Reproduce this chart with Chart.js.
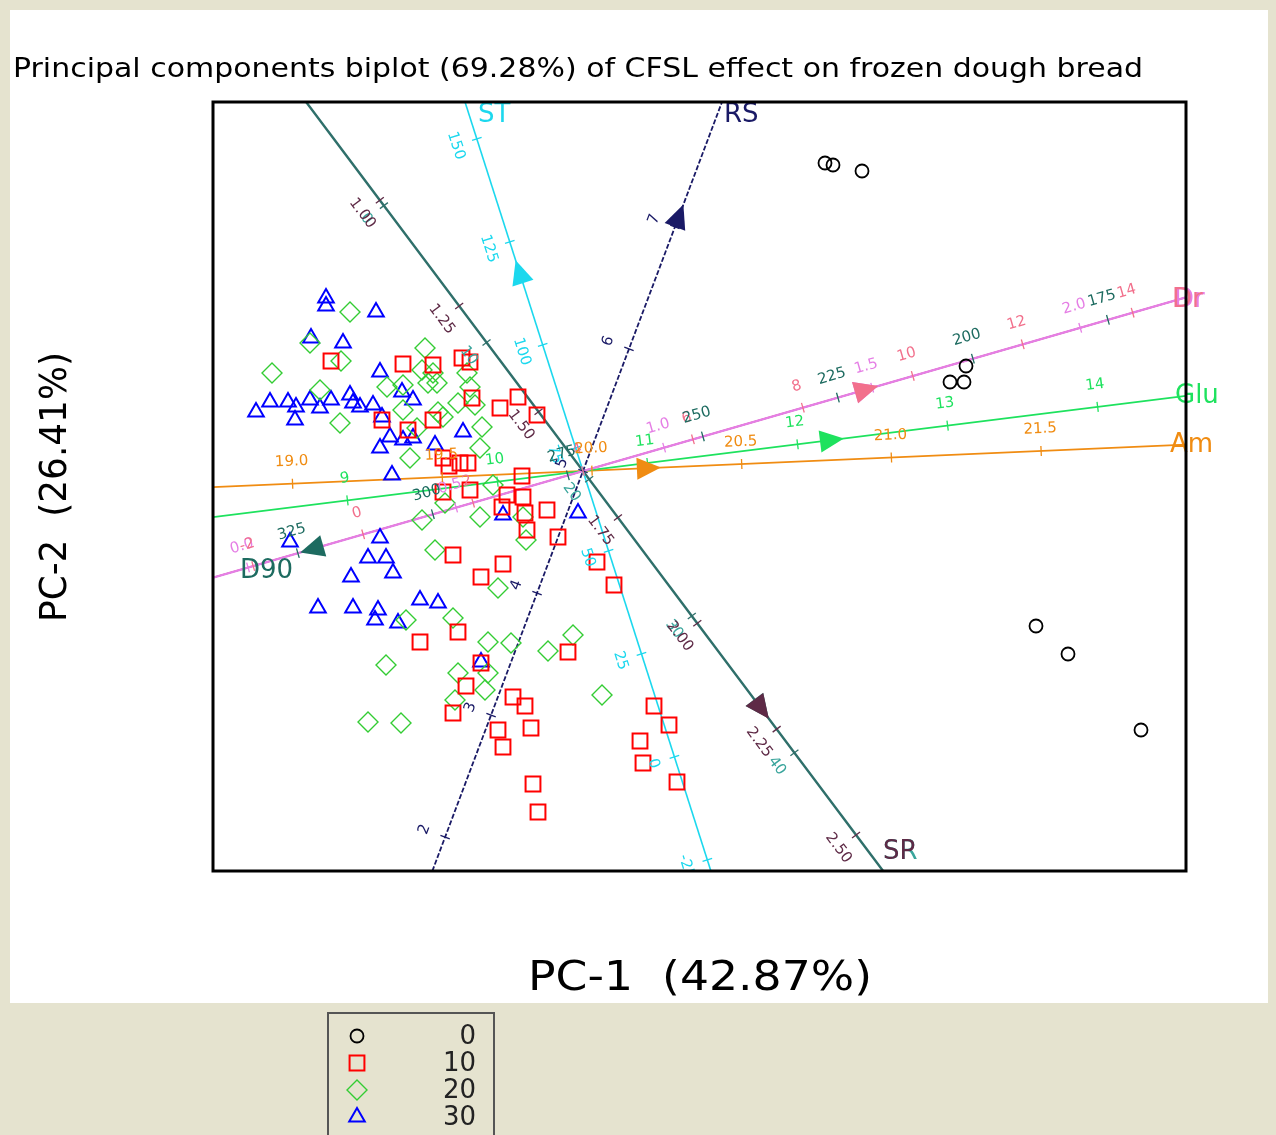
<!DOCTYPE html>
<html>
<head>
<meta charset="utf-8">
<script src="https://cdn.jsdelivr.net/npm/chart.js@4.4.0/dist/chart.umd.min.js"></script>
<style>
    html, body { margin: 0; padding: 0; background: #e5e3cf; }
    canvas { display: block; }
</style>
</head>
<body>
<canvas id="biplot" width="1276" height="1135"></canvas>
<script>
// groups (CFSL level) and their PC scores [PC-1, PC-2]
const groups = ['0', '10', '20', '30'];

const scores0 = [[2.42, 3.08], [2.50, 3.06], [2.79, 3.00], [3.67, 0.89], [3.81, 0.89], [3.83, 1.05],
    [4.53, -1.55], [4.85, -1.83], [5.58, -2.59]];

const scores10 = [[-2.52, 1.10], [-1.80, 1.07], [-1.50, 1.06], [-1.21, 1.13], [-1.13, 1.09], [-1.11, 0.73],
    [-0.65, 0.74], [-0.83, 0.63], [-0.46, 0.56], [-2.01, 0.51], [-1.75, 0.41], [-1.50, 0.51],
    [-1.40, 0.13], [-1.34, 0.05], [-1.23, 0.08], [-1.15, 0.08], [-1.40, -0.21], [-1.13, -0.19],
    [-0.61, -0.05], [-0.76, -0.24], [-0.60, -0.26], [-0.81, -0.36], [-0.58, -0.42], [-0.36, -0.39],
    [-0.56, -0.59], [-0.25, -0.66], [0.14, -0.91], [0.31, -1.14], [-1.30, -0.84], [-0.80, -0.93],
    [-1.02, -1.06], [-1.63, -1.71], [-1.25, -1.61], [-1.02, -1.92], [-1.17, -2.15], [-1.30, -2.42],
    [-0.70, -2.26], [-0.58, -2.35], [-0.85, -2.59], [-0.52, -2.57], [-0.80, -2.76], [-0.50, -3.13],
    [-0.45, -3.41], [-0.15, -1.81], [0.71, -2.35], [0.86, -2.54], [0.57, -2.70], [0.60, -2.92],
    [0.94, -3.11]];

const scores20 = [[-2.33, 1.59], [-2.73, 1.28], [-2.42, 1.10], [-3.11, 0.98], [-2.63, 0.81], [-2.43, 0.48],
    [-1.58, 1.23], [-1.61, 1.01], [-1.50, 0.98], [-1.96, 0.84], [-1.80, 0.86], [-1.55, 0.88],
    [-1.46, 0.88], [-1.16, 0.98], [-1.13, 0.84], [-1.25, 0.68], [-1.80, 0.61], [-1.45, 0.59],
    [-1.40, 0.54], [-1.01, 0.44], [-1.66, 0.43], [-1.73, 0.13], [-1.03, 0.23], [-1.08, 0.66],
    [-0.90, -0.14], [-1.38, -0.32], [-1.61, -0.49], [-1.03, -0.46], [-0.60, -0.46], [-0.57, -0.69],
    [-1.48, -0.79], [-0.85, -1.17], [-1.77, -1.49], [-1.30, -1.47], [-0.95, -1.71], [-0.72, -1.72],
    [-0.35, -1.80], [-0.10, -1.64], [-1.97, -1.94], [-1.25, -2.02], [-0.95, -2.02], [-0.98, -2.19],
    [-1.28, -2.29], [-2.15, -2.51], [-1.82, -2.52], [0.19, -2.24]];

const scores30 = [[-2.57, 1.73], [-2.57, 1.65], [-2.07, 1.59], [-2.72, 1.33], [-2.40, 1.28], [-2.03, 0.99],
    [-1.81, 0.79], [-1.70, 0.71], [-3.13, 0.69], [-3.27, 0.59], [-2.95, 0.69], [-2.87, 0.64],
    [-2.73, 0.71], [-2.63, 0.63], [-2.88, 0.51], [-2.52, 0.71], [-2.33, 0.76], [-2.30, 0.68],
    [-2.23, 0.64], [-2.10, 0.66], [-2.01, 0.54], [-1.93, 0.34], [-1.80, 0.31], [-1.70, 0.33],
    [-1.48, 0.26], [-2.03, 0.23], [-1.91, -0.04], [-1.20, 0.39], [-0.80, -0.44], [-0.05, -0.42],
    [-2.93, -0.71], [-2.03, -0.67], [-2.15, -0.87], [-1.97, -0.87], [-1.90, -1.02], [-2.32, -1.06],
    [-2.65, -1.37], [-2.30, -1.37], [-2.05, -1.39], [-2.08, -1.49], [-1.85, -1.52], [-1.63, -1.29],
    [-1.45, -1.32], [-1.02, -1.91]];

// calibration tick values on each variable axis
const stTicks = [-25, 0, 25, 50, 75, 100, 125, 150];
const rsTicks = [2, 3, 4, 5, 6, 7];
const spTicks = [1.00, 1.25, 1.50, 1.75, 2.00, 2.25, 2.50];
const srTicks = [0, 10, 20, 30, 40];
const d90Ticks = [175, 200, 225, 250, 275, 300, 325];
const drTicks = [-2, 0, 2, 4, 6, 8, 10, 12, 14];
const dvTicks = [0.0, 0.5, 1.0, 1.5, 2.0];
const gluTicks = [9, 10, 11, 12, 13, 14];
const amTicks = [19.0, 19.5, 20.0, 20.5, 21.0, 21.5];

// variable axes: direction (deg), value at origin, length per unit (PC units)
const varAxes = [
    { name: 'ST', ticks: stTicks, deg: 107.73, at0: 69.4, unit: 0.04325, dec: 0, arrowAt: 115,
      color: '#1cd8ee', side: 1, lw: 1.6, ldx: 13, ldy: 13 },
    { name: 'RS', ticks: rsTicks, deg: 69.36, at0: 5.0, unit: 1.304, dec: 0, arrowAt: 7,
      color: '#1a1a66', side: 1, lw: 1.8, dash: [5, 2], ldx: 2, ldy: 13 },
    { name: 'SR', ticks: srTicks, deg: -53.12, at0: 19.4, unit: 0.171, dec: 0, arrowAt: 36.1,
      color: '#2f706b', labelColor: '#3aa59c', side: -1, lw: 2.4, ldx: 0, ldy: -19 },
    { name: 'SP', ticks: spTicks, deg: -53.12, at0: 1.64, unit: 5.29, dec: 2, arrowAt: 2.18,
      color: '#5e2a46', side: -1, lw: 1.2, ldx: 0, ldy: -19 },
    { name: 'Dr', ticks: dvTicks, deg: 16.07, at0: 0.805, unit: 4.33, dec: 1, arrowAt: 1.459,
      color: '#e57ee5', side: 1, lw: 2.2, ldx: -12, ldy: 3 },
    { name: 'Dr', ticks: drTicks, deg: 16.07, at0: 4.0, unit: 0.572, dec: 0, arrowAt: 8.95,
      color: '#f2708c', side: 1, lw: 1.6, ldx: -14, ldy: 3 },
    { name: 'D90', ticks: d90Ticks, deg: 196.07, at0: 272.2, unit: 0.0562, dec: 0, arrowAt: 320.3,
      color: '#1d6b60', side: -1, lw: 1.2, ldx: 27, ldy: -6 },
    { name: 'Glu', ticks: gluTicks, deg: 7.10, at0: 10.57, unit: 1.512, dec: 0, arrowAt: 12.15,
      color: '#1ee25e', side: 1, lw: 1.6, ldx: -11, ldy: 0 },
    { name: 'Am', ticks: amTicks, deg: 2.50, at0: 19.97, unit: 2.997, dec: 1, arrowAt: 20.15,
      color: '#f08c12', side: 1, lw: 1.8, ldx: -16, ldy: 1 }
];

const xMin = -3.70, xMax = 6.03, yMin = -4.00, yMax = 3.69;

function dirOf(ax) {
    const r = ax.deg * Math.PI / 180;
    return [Math.cos(r), Math.sin(r)];
}

// distance from origin to the frame along (c, s)
function reach(c, s) {
    let t = Infinity;
    if (c > 0) t = Math.min(t, xMax / c);
    if (c < 0) t = Math.min(t, xMin / c);
    if (s > 0) t = Math.min(t, yMax / s);
    if (s < 0) t = Math.min(t, yMin / s);
    return t;
}

function axisLine(ax) {
    const [c, s] = dirOf(ax);
    const tp = reach(c, s), tm = reach(-c, -s);
    return [{ x: -tm * c, y: -tm * s }, { x: tp * c, y: tp * s }];
}

const toXY = arr => arr.map(p => ({ x: p[0], y: p[1] }));

const pointSets = [
    { data: scores0, style: 'circle', radius: 6.5, color: '#000000', width: 1.8 },
    { data: scores10, style: 'rect', radius: 10.5, color: '#ff0000', width: 2 },
    { data: scores20, style: 'rectRot', radius: 10, color: '#33cc33', width: 1.4 },
    { data: scores30, style: 'triangle', radius: 9, color: '#0000ff', width: 2 }
];

const datasets = [];
pointSets.forEach((p, i) => {
    datasets.push({
        label: groups[i],
        data: toXY(p.data),
        pointStyle: p.style,
        pointRadius: p.radius,
        borderColor: p.color,
        backgroundColor: 'rgba(0,0,0,0)',
        pointBorderWidth: p.width,
        order: 0
    });
});
varAxes.forEach(ax => {
    datasets.push({
        label: ax.name,
        data: axisLine(ax),
        showLine: true,
        pointRadius: 0,
        borderColor: ax.color,
        borderWidth: ax.lw,
        borderDash: ax.dash || [],
        order: 1
    });
});

const fmt = (v, d) => v.toFixed(d);

const biplotDecor = {
    id: 'biplotDecor',
    beforeDraw(chart) {
        const ctx = chart.ctx;
        ctx.save();
        ctx.fillStyle = '#e5e3cf';
        ctx.fillRect(0, 0, chart.width, chart.height);
        ctx.fillStyle = '#ffffff';
        ctx.fillRect(10, 10, 1258, 993);
        ctx.restore();
    },
    afterDatasetsDraw(chart) {
        const ctx = chart.ctx, xs = chart.scales.x, ys = chart.scales.y, a = chart.chartArea;
        ctx.save();
        ctx.beginPath();
        ctx.rect(a.left, a.top, a.right - a.left, a.bottom - a.top);
        ctx.clip();
        varAxes.forEach(ax => {
            const [c, s] = dirOf(ax);
            const pix = v => {
                const t = (v - ax.at0) * ax.unit;
                return [xs.getPixelForValue(t * c), ys.getPixelForValue(t * s)];
            };
            const p0 = pix(ax.at0), p1 = pix(ax.at0 + 1 / ax.unit);
            let dx = p1[0] - p0[0], dy = p1[1] - p0[1];
            const len = Math.hypot(dx, dy);
            dx /= len; dy /= len;
            const nx = dy, ny = -dx; // left of increasing direction on screen
            let rot = Math.atan2(dy, dx);
            if (dx < 0) rot = Math.atan2(-dy, -dx);

            ctx.strokeStyle = ax.color;
            ctx.lineWidth = 1.3;
            ctx.fillStyle = ax.labelColor || ax.color;
            ctx.font = '15px "DejaVu Sans"';
            ctx.textAlign = 'center';
            ctx.textBaseline = 'middle';
            ax.ticks.forEach(v => {
                const [x, y] = pix(v);
                ctx.beginPath();
                ctx.moveTo(x - nx * 5, y - ny * 5);
                ctx.lineTo(x + nx * 5, y + ny * 5);
                ctx.stroke();
                const lx = x + nx * ax.side * 22, ly = y + ny * ax.side * 22;
                ctx.save();
                ctx.translate(lx, ly);
                ctx.rotate(rot);
                ctx.fillText(fmt(v, ax.dec), 0, 0);
                ctx.restore();
            });

            // arrow head toward increasing values
            const [bx, by] = pix(ax.arrowAt);
            ctx.fillStyle = ax.color;
            ctx.beginPath();
            ctx.moveTo(bx + dx * 24, by + dy * 24);
            ctx.lineTo(bx + nx * 11, by + ny * 11);
            ctx.lineTo(bx - nx * 11, by - ny * 11);
            ctx.closePath();
            ctx.fill();
        });
        ctx.restore();

        // variable names at the arrow end of each axis
        ctx.save();
        ctx.font = '26px "DejaVu Sans"';
        ctx.textAlign = 'left';
        ctx.textBaseline = 'middle';
        varAxes.forEach(ax => {
            const end = axisLine(ax)[1];
            ctx.fillStyle = ax.labelColor || ax.color;
            ctx.fillText(ax.name, xs.getPixelForValue(end.x) + ax.ldx, ys.getPixelForValue(end.y) + ax.ldy);
        });
        ctx.restore();
    },
    afterDraw(chart) {
        const ctx = chart.ctx, a = chart.chartArea;
        ctx.save();
        ctx.strokeStyle = '#000000';
        ctx.lineWidth = 3;
        ctx.strokeRect(a.left, a.top, a.right - a.left, a.bottom - a.top);

        const stretched = (text, x, y, width, font, angle) => {
            ctx.save();
            ctx.font = font;
            const k = width / ctx.measureText(text).width;
            ctx.translate(x, y);
            if (angle) ctx.rotate(angle);
            ctx.scale(k, 1);
            ctx.textAlign = 'center';
            ctx.textBaseline = 'alphabetic';
            ctx.fillStyle = '#000000';
            ctx.fillText(text, 0, 0);
            ctx.restore();
        };
        stretched('Principal components biplot (69.28%) of CFSL effect on frozen dough bread',
            13 + 565, 77, 1130, '27px "DejaVu Sans"');
        stretched('PC-1  (42.87%)', 700, 990, 344, '41px "DejaVu Sans"');
        stretched('PC-2  (26.41%)', 66, 487, 270, '38px "DejaVu Sans"', -Math.PI / 2);

        // legend box
        ctx.fillStyle = '#e5e3cf';
        ctx.strokeStyle = '#555555';
        ctx.lineWidth = 2;
        ctx.beginPath();
        ctx.rect(328, 1013, 166, 140);
        ctx.fill();
        ctx.stroke();
        ctx.font = '26px "DejaVu Sans"';
        ctx.textAlign = 'right';
        ctx.textBaseline = 'middle';
        pointSets.forEach((p, i) => {
            const y = 1036 + i * 27;
            ctx.strokeStyle = p.color;
            ctx.fillStyle = 'rgba(0,0,0,0)';
            ctx.lineWidth = p.width;
            Chart.helpers.drawPoint(ctx, { pointStyle: p.style, radius: p.radius, rotation: 0, borderWidth: p.width }, 357, y);
            ctx.fillStyle = '#222222';
            ctx.fillText(groups[i], 476, y + 1);
        });
        ctx.restore();
    }
};

new Chart(document.getElementById('biplot'), {
    type: 'scatter',
    data: { datasets: datasets },
    options: {
        responsive: false,
        animation: false,
        devicePixelRatio: 1,
        layout: { padding: { left: 213, top: 102, right: 90, bottom: 264 } },
        plugins: { legend: { display: false }, tooltip: { enabled: false } },
        scales: {
            x: { type: 'linear', min: xMin, max: xMax, display: false },
            y: { type: 'linear', min: yMin, max: yMax, display: false }
        }
    },
    plugins: [biplotDecor]
});
</script>
</body>
</html>
